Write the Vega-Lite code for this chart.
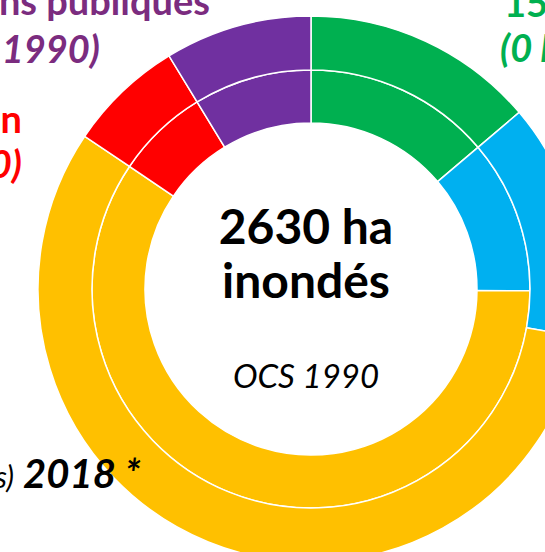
{
  "$schema": "https://vega.github.io/schema/vega-lite/v6.json",
  "width": 468,
  "height": 526,
  "autosize": "none",
  "padding": {"left": 77, "top": 26, "right": 0, "bottom": 0},
  "config": {"view": {"stroke": null}, "text": {"font": "Lato"}},
  "datasets": {
    "rings": [
      {"ring": "1990", "cat": "Espaces naturels", "ord": 1, "ha": 363, "l1": "150 ha", "l2": "(0 ha en 1990)"},
      {"ring": "1990", "cat": "Zones urbanisées", "ord": 2, "ha": 298, "l1": "", "l2": ""},
      {"ring": "1990", "cat": "Terres agricoles", "ord": 3, "ha": 1560, "l1": "OCS (occupation des sols)", "l2": "2018 *"},
      {"ring": "1990", "cat": "En construction", "ord": 4, "ha": 180, "l1": "En construction", "l2": "(180 ha en 1990)"},
      {"ring": "1990", "cat": "Installations publiques", "ord": 5, "ha": 229, "l1": "Installations publiques", "l2": "(229 ha en 1990)"},
      {"ring": "2018", "cat": "Espaces naturels", "ord": 1, "ha": 363, "l1": "150 ha", "l2": "(0 ha en 1990)"},
      {"ring": "2018", "cat": "Zones urbanisées", "ord": 2, "ha": 369, "l1": "", "l2": ""},
      {"ring": "2018", "cat": "Terres agricoles", "ord": 3, "ha": 1489, "l1": "OCS (occupation des sols)", "l2": "2018 *"},
      {"ring": "2018", "cat": "En construction", "ord": 4, "ha": 180, "l1": "En construction", "l2": "(180 ha en 1990)"},
      {"ring": "2018", "cat": "Installations publiques", "ord": 5, "ha": 229, "l1": "Installations publiques", "l2": "(229 ha en 1990)"}
    ],
    "center": [
      {"t1": "2630 ha", "t2": "inondés", "t3": "OCS 1990"}
    ]
  },
  "layer": [
    {
      "data": {"name": "rings"},
      "transform": [{"filter": "datum.ring == '1990'"}],
      "mark": {"type": "arc", "outerRadius": 219, "innerRadius": 166, "stroke": "white", "strokeWidth": 1.5},
      "encoding": {
        "theta": {"field": "ha", "type": "quantitative", "stack": true},
        "order": {"field": "ord"},
        "color": {"field": "cat", "type": "nominal", "legend": null,
          "scale": {"domain": ["Espaces naturels", "Zones urbanisées", "Terres agricoles", "En construction", "Installations publiques"],
                    "range": ["#00B050", "#00B0F0", "#FFC000", "#FF0000", "#7030A0"]}}
      }
    },
    {
      "data": {"name": "rings"},
      "transform": [{"filter": "datum.ring == '2018'"}],
      "mark": {"type": "arc", "outerRadius": 273, "innerRadius": 219, "stroke": "white", "strokeWidth": 1.5},
      "encoding": {
        "theta": {"field": "ha", "type": "quantitative", "stack": true},
        "order": {"field": "ord"},
        "color": {"field": "cat", "type": "nominal", "legend": null}
      }
    },
    {
      "data": {"name": "rings"},
      "transform": [{"filter": "datum.ring == '2018'"}],
      "mark": {"type": "text", "radius": 300, "align": "right", "baseline": "alphabetic", "dx": -20, "dy": 15, "fontSize": 38, "fontWeight": "bold", "color": "#7B2C7F"},
      "encoding": {
        "theta": {"field": "ha", "type": "quantitative", "stack": true},
        "order": {"field": "ord"},
        "text": {"condition": {"test": "datum.cat == 'Installations publiques'", "field": "l1", "type": "nominal"}, "value": ""}
      }
    },
    {
      "data": {"name": "rings"},
      "transform": [{"filter": "datum.ring == '2018'"}],
      "mark": {"type": "text", "radius": 300, "align": "right", "baseline": "alphabetic", "dx": -130, "dy": 63, "fontSize": 38, "fontWeight": "bold", "fontStyle": "italic", "color": "#7B2C7F"},
      "encoding": {
        "theta": {"field": "ha", "type": "quantitative", "stack": true},
        "order": {"field": "ord"},
        "text": {"condition": {"test": "datum.cat == 'Installations publiques'", "field": "l2", "type": "nominal"}, "value": ""}
      }
    },
    {
      "data": {"name": "rings"},
      "transform": [{"filter": "datum.ring == '2018'"}],
      "mark": {"type": "text", "radius": 300, "align": "right", "baseline": "alphabetic", "dx": -82, "dy": 61, "fontSize": 38, "fontWeight": "bold", "color": "#FF0000"},
      "encoding": {
        "theta": {"field": "ha", "type": "quantitative", "stack": true},
        "order": {"field": "ord"},
        "text": {"condition": {"test": "datum.cat == 'En construction'", "field": "l1", "type": "nominal"}, "value": ""}
      }
    },
    {
      "data": {"name": "rings"},
      "transform": [{"filter": "datum.ring == '2018'"}],
      "mark": {"type": "text", "radius": 300, "align": "right", "baseline": "alphabetic", "dx": -82, "dy": 106, "fontSize": 38, "fontWeight": "bold", "fontStyle": "italic", "color": "#FF0000"},
      "encoding": {
        "theta": {"field": "ha", "type": "quantitative", "stack": true},
        "order": {"field": "ord"},
        "text": {"condition": {"test": "datum.cat == 'En construction'", "field": "l2", "type": "nominal"}, "value": ""}
      }
    },
    {
      "data": {"name": "rings"},
      "transform": [{"filter": "datum.ring == '2018'"}],
      "mark": {"type": "text", "radius": 300, "align": "left", "baseline": "alphabetic", "dx": 67, "dy": 0, "fontSize": 38, "fontWeight": "bold", "color": "#00B050"},
      "encoding": {
        "theta": {"field": "ha", "type": "quantitative", "stack": true},
        "order": {"field": "ord"},
        "text": {"condition": {"test": "datum.cat == 'Espaces naturels'", "field": "l1", "type": "nominal"}, "value": ""}
      }
    },
    {
      "data": {"name": "rings"},
      "transform": [{"filter": "datum.ring == '2018'"}],
      "mark": {"type": "text", "radius": 300, "align": "left", "baseline": "alphabetic", "dx": 63, "dy": 45, "fontSize": 38, "fontWeight": "bold", "fontStyle": "italic", "color": "#00B050"},
      "encoding": {
        "theta": {"field": "ha", "type": "quantitative", "stack": true},
        "order": {"field": "ord"},
        "text": {"condition": {"test": "datum.cat == 'Espaces naturels'", "field": "l2", "type": "nominal"}, "value": ""}
      }
    },
    {
      "data": {"name": "rings"},
      "transform": [{"filter": "datum.ring == '2018'"}],
      "mark": {"type": "text", "radius": 300, "align": "right", "baseline": "alphabetic", "dx": -184, "dy": -79, "fontSize": 30, "fontStyle": "italic", "color": "black"},
      "encoding": {
        "theta": {"field": "ha", "type": "quantitative", "stack": true},
        "order": {"field": "ord"},
        "text": {"condition": {"test": "datum.cat == 'Terres agricoles'", "field": "l1", "type": "nominal"}, "value": ""}
      }
    },
    {
      "data": {"name": "rings"},
      "transform": [{"filter": "datum.ring == '2018'"}],
      "mark": {"type": "text", "radius": 300, "align": "left", "baseline": "alphabetic", "dx": -175, "dy": -79, "fontSize": 40, "fontWeight": "bold", "fontStyle": "italic", "color": "black"},
      "encoding": {
        "theta": {"field": "ha", "type": "quantitative", "stack": true},
        "order": {"field": "ord"},
        "text": {"condition": {"test": "datum.cat == 'Terres agricoles'", "field": "l2", "type": "nominal"}, "value": ""}
      }
    },
    {
      "data": {"name": "center"},
      "mark": {"type": "text", "align": "center", "baseline": "alphabetic", "dx": -5, "dy": -45, "fontSize": 48, "fontWeight": "bold", "color": "black"},
      "encoding": {"text": {"field": "t1", "type": "nominal"}}
    },
    {
      "data": {"name": "center"},
      "mark": {"type": "text", "align": "center", "baseline": "alphabetic", "dx": -5, "dy": 9, "fontSize": 48, "fontWeight": "bold", "color": "black"},
      "encoding": {"text": {"field": "t2", "type": "nominal"}}
    },
    {
      "data": {"name": "center"},
      "mark": {"type": "text", "align": "center", "baseline": "alphabetic", "dx": -5, "dy": 99, "fontSize": 33, "fontStyle": "italic", "color": "black"},
      "encoding": {"text": {"field": "t3", "type": "nominal"}}
    }
  ]
}
